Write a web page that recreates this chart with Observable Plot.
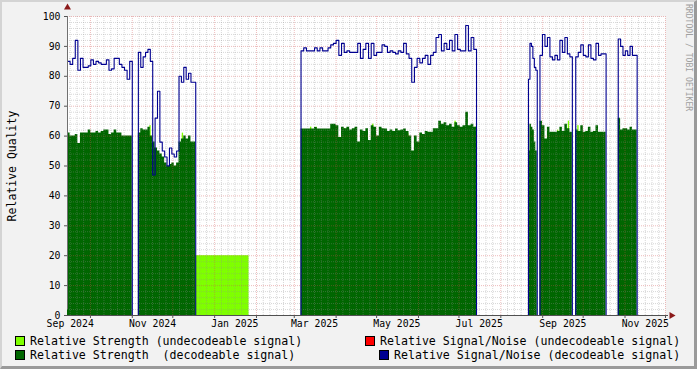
<!DOCTYPE html>
<html><head><meta charset="utf-8">
<script src="https://cdn.jsdelivr.net/npm/d3@7"></script>
<script src="https://cdn.jsdelivr.net/npm/@observablehq/plot@0.6"></script>
<style>
html,body{margin:0;padding:0;}
body{width:697px;height:369px;overflow:hidden;background:#f2f2f2;font-family:"DejaVu Sans Mono",monospace;}
#wrap{position:relative;width:697px;height:369px;}
#chart{position:absolute;left:0;top:0;}
.frm{position:absolute;left:0;top:0;width:697px;height:369px;box-sizing:border-box;border-top:2px solid #d4d4d4;border-left:2px solid #d4d4d4;border-right:3px solid #9a9a9a;border-bottom:3px solid #9a9a9a;pointer-events:none;}
.leg{position:absolute;font-size:11.6px;white-space:pre;line-height:12px;color:#000;}
.sw{position:absolute;width:8px;height:8px;border:1px solid #000;}
.wm{position:absolute;left:684px;top:4px;writing-mode:vertical-rl;font-size:8.1px;color:#a0a0a0;white-space:pre;}
</style></head>
<body><div id="wrap"><div id="chart"></div>
<div class="sw" style="left:15px;top:336px;background:#7fff00"></div>
<div class="leg" style="left:30px;top:335px">Relative Strength (undecodeable signal)</div>
<div class="sw" style="left:15px;top:350px;background:#006600"></div>
<div class="leg" style="left:30px;top:349px">Relative Strength  (decodeable signal)</div>
<div class="sw" style="left:365px;top:336px;background:#ff0000"></div>
<div class="leg" style="left:380px;top:335px">Relative Signal/Noise (undecodeable signal)</div>
<div class="sw" style="left:379px;top:350px;background:#000090"></div>
<div class="leg" style="left:394px;top:349px">Relative Signal/Noise (decodeable signal)</div>
<div class="wm">RRDTOOL / TOBI OETIKER</div>
<div class="frm"></div>
</div>
<script>
// ---- data ----
const domainStart = "2024-09-14T00:00Z";
const domainEnd = "2025-12-01T00:00Z";
const segStart = ["2024-09-14T00:00Z","2024-11-05T12:00Z","2025-03-06T00:00Z","2025-08-21T12:00Z","2025-08-30T00:00Z","2025-09-25T12:00Z","2025-10-27T00:00Z"];
const segEnd   = ["2024-11-01T00:00Z","2024-12-18T00:00Z","2025-07-14T00:00Z","2025-08-28T00:00Z","2025-09-23T00:00Z","2025-10-18T00:00Z","2025-11-10T00:00Z"];

// Relative Signal/Noise (decodeable) per segment
const snrA = [85,84,86,92,82,86,83,83,83.5,85.5,84,85,84.5,84,84,85.5,82,82.5,86,86,84,83,82,79,85];
const snrB = [88,83,86.5,88,89,85,47,66,75,58,55,53,50,56,54,53,55,80,78,83,79,81,78,78];
const snrC = [88.5,89.5,88.5,88.5,88.5,89.5,88.5,89.5,88.5,88.5, 89.5,90.5,91,92,87,91,88,88.5,88,88,
              88,91,86,89,91,86,91,87,88,88, 90.5,90,88,88.5,88,87.5,88.5,88,91,87.5,
              86,78,83,86,84.5,86,87,84,87,88, 93,94,88.5,91,89,92,88.5,94,89,88.5,
              88.5,97,88.5,93,89];
const snrD = [79,91,90,86,83,82];
const snrE = [87,94,90,93,86.5,85.5,87,85.5,92,88,93,87.5,86.5];
const snrF = [86.5,88,90.5,87,86.5,90.5,86,85.5,91,87,87.5,87.5];
const snrG = [92.5,90,87,88.5,87,90,87,87];

// Relative Strength (decodeable) per segment
const strA = [61,60,60,60.5,57.5,61,61,61,62,61,61,61.5,61,61.5,62,62,60.5,61,62,61,61,60,60,60,60];
const strB = [61,62.5,62,62,63,60,58,56,55,54,53,51,50,50.5,51,50,51,58,59,60,59,60,58,58];
const strC = [62.4,62.4,62.4,62.4,62.4,62.9,62.4,62.4,62.4,62.4, 62.4,64,64,63.5,59.5,63,62.5,63,62,62.5,
              63,58,62,61.5,62.5,58.5,63.5,63,60,63, 62.5,62.4,61.5,62,61.5,62.4,61.8,62,62.4,61.5,
              60,55,60,58,61,60.5,61.5,61.3,61.3,62.5, 62.5,65,64,64.5,63.5,64,63,64.5,63.5,63,
              63.5,68,63.5,64,63];
const strD = [55,64,63,62,58,55];
const strE = [65,63.5,59,63,61.3,61.3,61.3,61.5,63,61.5,64,62.5,61.3];
const strF = [62,61.5,63.5,61.3,61.5,63,61.3,61.5,63.5,61.3,61.3,61.3];
const strG = [66,62,62.5,62.5,62,63,62,62];

// Relative Strength (undecodeable)
const undecStart = ["2024-11-14T00:00Z","2024-12-08T00:00Z","2024-12-18T00:00Z","2025-03-13T00:00Z","2025-03-17T00:00Z","2025-04-07T00:00Z","2025-04-28T00:00Z","2025-05-24T00:00Z","2025-06-07T00:00Z","2025-06-28T00:00Z","2025-07-13T00:00Z","2025-09-12T00:00Z","2025-09-20T00:00Z","2025-09-27T00:00Z"];
const undecEnd   = ["2024-11-15T00:00Z","2024-12-09T00:00Z","2025-01-26T12:00Z","2025-03-14T00:00Z","2025-03-18T00:00Z","2025-04-08T00:00Z","2025-04-29T00:00Z","2025-05-25T00:00Z","2025-06-08T00:00Z","2025-06-29T00:00Z","2025-07-14T00:00Z","2025-09-13T00:00Z","2025-09-21T00:00Z","2025-09-28T00:00Z"];
const undecVals  = [63.5,61,20,63,63,62.5,64,60.8,61.5,65,63,62,65,63.5];

// Relative Signal/Noise (undecodeable): no data in this period
const snrUndec = [];

const yTicks = [0,10,20,30,40,50,60,70,80,90,100];
const xLabelDates = ["2024-09-16T00:00Z","2024-11-16T00:00Z","2025-01-16T00:00Z","2025-03-16T00:00Z","2025-05-16T00:00Z","2025-07-16T00:00Z","2025-09-16T00:00Z","2025-11-16T00:00Z"];

// ---- build tables ----
const snrSegs = [snrA,snrB,snrC,snrD,snrE,snrF,snrG];
const strSegs = [strA,strB,strC,strD,strE,strF,strG];
const d0 = new Date(domainStart), d1 = new Date(domainEnd);
const snrRows = [], strRows = [];
segStart.forEach((s, k) => {
  const t0 = +new Date(s), t1 = +new Date(segEnd[k]);
  const sv = snrSegs[k], gv = strSegs[k];
  const step = (t1 - t0) / sv.length;
  sv.forEach((v, i) => snrRows.push({t: new Date(t0 + i*step), v}));
  snrRows.push({t: new Date(t1), v: 0});
  const gstep = (t1 - t0) / gv.length;
  gv.forEach((v, i) => strRows.push({t: new Date(t0 + i*gstep), v}));
  strRows.push({t: new Date(t1), v: gv[gv.length-1]});
  strRows.push({t: new Date(t1), v: NaN});
});
snrRows.push({t: d1, v: 0});
const undec = undecStart.map((s, i) => ({t1: new Date(s), t2: new Date(undecEnd[i]), v: undecVals[i]}));

const monthStarts = d3.utcMonth.range(d3.utcMonth.ceil(d0), d3.utcDay.offset(d1, 1));
const xMinor = d3.utcDay.range(d0, d1).filter(d => [6,11,16,21,26].includes(d.getUTCDate()));
const yMinor = d3.range(2, 100, 2).filter(v => v % 10 !== 0);
const yMajor = d3.range(10, 101, 10);
const xLabels = xLabelDates.map(s => new Date(s));

const chart = Plot.plot({
  width: 697, height: 330,
  marginLeft: 67, marginRight: 32, marginTop: 16, marginBottom: 15,
  style: {fontFamily: "DejaVu Sans Mono", fontSize: "9.8px", background: "transparent", color: "#000"},
  x: {type: "utc", domain: [d0, d1]},
  y: {domain: [0, 100]},
  marks: [
    Plot.frame({fill: "white", stroke: null}),
    Plot.rectY(undec, {x1: "t1", x2: "t2", y: "v", fill: "#7fff00"}),
    Plot.areaY(strRows, {x: "t", y: "v", curve: "step-after", fill: "#006600"}),
    Plot.ruleX(xMinor, {stroke: "#909090", strokeOpacity: 0.35, strokeDasharray: "1,1"}),
    Plot.ruleY(yMinor, {stroke: "#909090", strokeOpacity: 0.35, strokeDasharray: "1,1"}),
    Plot.ruleX(monthStarts, {stroke: "#d05050", strokeOpacity: 0.38, strokeDasharray: "1,1"}),
    Plot.ruleY(yMajor, {stroke: "#d05050", strokeOpacity: 0.38, strokeDasharray: "1,1"}),
    Plot.line(snrUndec, {x: "t", y: "v", curve: "step-after", stroke: "#ff0000"}),
    Plot.line(snrRows, {x: "t", y: "v", curve: "step-after", stroke: "#000090", strokeWidth: 1.1}),
    Plot.ruleX([d0], {y1: 0, y2: 100, insetTop: -6, stroke: "#707070"}),
    Plot.ruleY([0], {insetRight: -3, stroke: "#505050"}),
    Plot.dot([{t: d0, v: 100}], {x: "t", y: "v", dy: -9, symbol: "triangle", r: 2.6, fill: "#8b1a1a", stroke: null}),
    Plot.dot([{t: d1, v: 0}], {x: "t", y: "v", dx: 6, symbol: "triangle", r: 2.6, rotate: 90, fill: "#8b1a1a", stroke: null}),
    Plot.axisY(yTicks, {tickSize: 3, tickPadding: 4, label: null, stroke: "#555"}),
    Plot.axisX(monthStarts, {tickSize: 3, tickFormat: () => "", label: null, stroke: "#555"}),
    Plot.axisX(xLabels, {tickSize: 0, tickPadding: 5, tickFormat: d3.utcFormat("%b %Y"), label: null}),
    Plot.text(["Relative Quality"], {frameAnchor: "left", textAnchor: "middle", dx: -55, rotate: -90, fontSize: 11.5, fill: "#000"})
  ]
});
document.getElementById("chart").appendChild(chart);
</script>
</body></html>
